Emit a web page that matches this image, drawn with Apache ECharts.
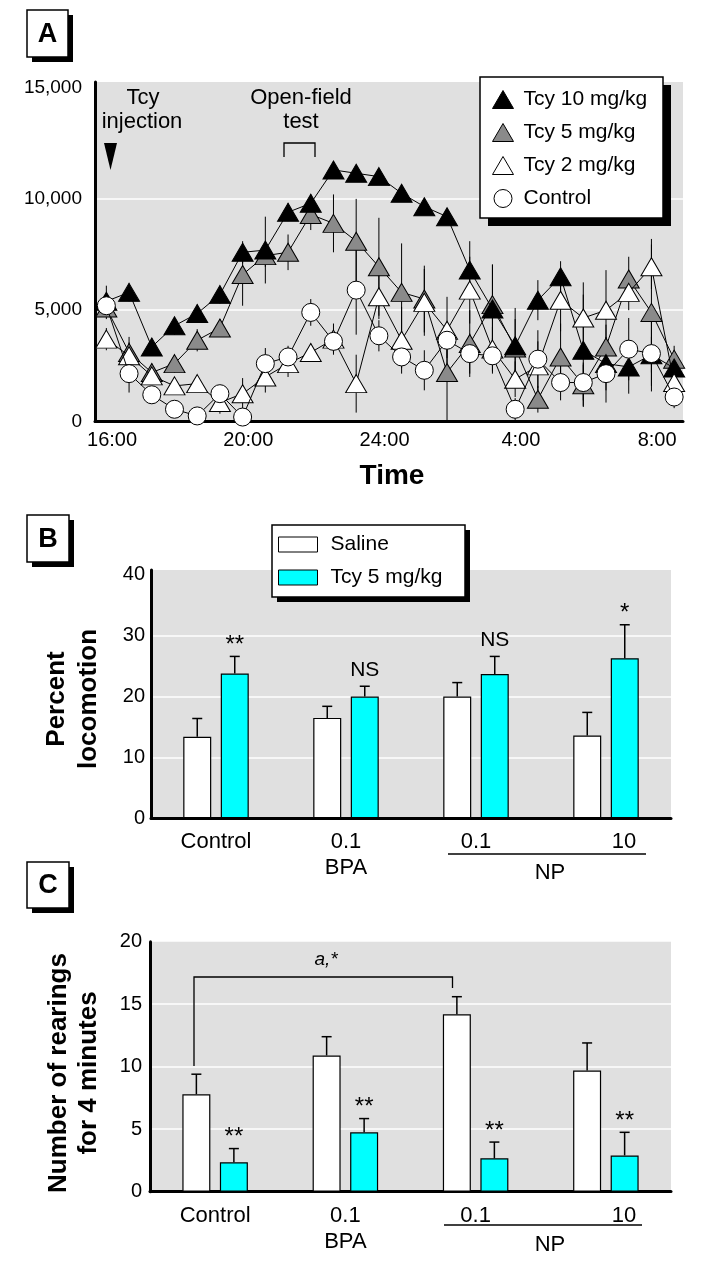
<!DOCTYPE html>
<html><head><meta charset="utf-8">
<script src="https://cdn.jsdelivr.net/npm/echarts@6/dist/echarts.min.js"></script>
<style>html,body{margin:0;padding:0;background:#fff}#c{width:715px;height:1266px}</style>
</head><body><div id="c"></div>
<script>
// ---------- Panel A data ----------
const timeLabels = ['15:50','16:30','17:10','17:50','18:30','19:10','19:50','20:30','21:10','21:50','22:30','23:10','23:50','0:30','1:10','1:50','2:30','3:10','3:50','4:30','5:10','5:50','6:30','7:10','7:50','8:30'];
const tcy10 = [5400,5800,3350,4300,4850,5700,7600,7700,9400,9800,11300,11150,11000,10250,9650,9200,6800,5050,3400,5450,6500,3200,2600,2450,3000,2400];
const tcy10Err = [700,400,400,400,400,400,500,1500,400,400,400,300,300,300,300,300,1300,2000,1700,900,700,2500,1200,1200,800,800];
const tcy5 = [5100,3100,2200,2600,3650,4200,6600,7450,7600,9300,8900,8100,6950,5800,5500,2200,3500,5250,3300,1000,2900,1650,3350,6400,4900,2800];
const tcy5Err = [500,700,400,400,500,400,1400,500,800,700,1300,1900,2200,2200,1500,2200,1500,1800,1300,600,1500,1000,1000,1000,3300,600];
const tcy2 = [3700,2950,2050,1600,1700,850,1250,2000,2600,3100,3700,1700,5600,3650,5350,4100,5900,3250,1900,2500,5450,4650,5000,5800,6950,1750];
const tcy2Err = [500,600,300,300,300,500,700,700,600,400,700,1300,1000,1500,1500,1500,1500,1000,800,1100,1400,1600,1800,800,1000,800];
const control = [5200,2150,1200,550,250,1250,200,2600,2900,4900,3600,5900,3850,2900,2300,3650,3050,2950,550,2800,1750,1750,2150,3250,3050,1100];
const controlErr = [500,850,300,200,200,300,200,700,500,600,500,2000,700,500,900,800,900,800,500,1300,800,800,1300,1400,1700,500];
const xTicksA = ['16:00','20:00','24:00','4:00','8:00'];
const yTicksA = [0,5000,10000,15000];

// ---------- Panel B / C data ----------
const barCats = ['Control','0.1\nBPA','0.1','10'];
const salineB = [13.4,16.5,20.0,13.6];
const salineBErr = [3.0,1.9,2.3,3.8];
const tcyB = [23.8,20.0,23.7,26.3];
const tcyBErr = [2.8,1.7,2.9,5.5];
const marksB = ['**','NS','NS','*'];
const yTicksB = [0,10,20,30,40];

const salineC = [7.8,10.9,14.2,9.7];
const salineCErr = [1.6,1.5,1.4,2.2];
const tcyC = [2.35,4.75,2.67,2.9];
const tcyCErr = [1.1,1.1,1.3,1.85];
const marksC = ['**','**','**','**'];
const yTicksC = [0,5,10,15,20];

// ---------- helpers ----------
const FN = "'Liberation Sans',Arial,sans-serif";
const FB = "'Liberation Sans',Arial,sans-serif";
const BG = '#e0e0e0';
function toHours(s){const p=s.split(':').map(Number);let v=p[0]+p[1]/60;if(v<12)v+=24;return v;}
const times = timeLabels.map(toHours);
const xTickHours = xTicksA.map(toHours);

function lineSeries(name, vals, sym, size, fill, z){
  return {type:'line', name, xAxisIndex:0, yAxisIndex:0, z,
    data: times.map((t,i)=>[t, vals[i]]),
    symbol: sym, symbolSize: size, showSymbol: true, symbolKeepAspect:false,
    lineStyle:{color:'#000', width:1},
    itemStyle:{color:fill, borderColor:'#000', borderWidth:1},
    emphasis:{disabled:true}, animation:false};
}
function errSeriesA(vals, errs){
  return {type:'custom', xAxisIndex:0, yAxisIndex:0, z:1, silent:true, animation:false,
    data: times.map((t,i)=>[t, vals[i], errs[i]]),
    renderItem:(p,api)=>{
      const x=api.value(0), v=api.value(1), e=api.value(2);
      const a=api.coord([x, Math.max(0, v-e)]), b=api.coord([x, v+e]);
      return {type:'line', shape:{x1:a[0],y1:a[1],x2:b[0],y2:b[1]}, style:{stroke:'#000', lineWidth:1}};
    }};
}
function gridLines(xi, yi, ticks){
  return {type:'line', xAxisIndex:xi, yAxisIndex:yi, data:[], z:0, silent:true,
    markLine:{silent:true, z:0, symbol:'none', label:{show:false}, animation:false,
      lineStyle:{color:'#fff', width:1.5, type:'solid'},
      data: ticks.slice(1,-1).map(v=>({yAxis:v}))}};
}
function barSeries(name, xi, yi, vals, color){
  return {type:'bar', name, xAxisIndex:xi, yAxisIndex:yi, data: vals, barWidth:28, barGap:'34%',
    itemStyle:{color, borderColor:'#000', borderWidth:1.2}, z:3, animation:false, emphasis:{disabled:true}};
}
function barErr(xi, yi, vals, errs, marks, offset){
  return {type:'custom', xAxisIndex:xi, yAxisIndex:yi, z:4, silent:true, animation:false,
    data: vals.map((v,i)=>[i, v, errs[i]]),
    renderItem:(p,api)=>{
      const i=api.value(0), v=api.value(1), e=api.value(2);
      const a=api.coord([i,v]), b=api.coord([i,v+e]); const x=a[0]+offset;
      const ch=[
        {type:'line', shape:{x1:x,y1:a[1],x2:x,y2:b[1]}, style:{stroke:'#000', lineWidth:1.5}},
        {type:'line', shape:{x1:x-5,y1:b[1],x2:x+5,y2:b[1]}, style:{stroke:'#000', lineWidth:1.5}}];
      const m = marks ? marks[p.dataIndex] : '';
      if (m) {
        const star = m.indexOf('*')>=0;
        ch.push({type:'text', x:x, y:b[1] + (star ? 1 : -6),
          style:{text:m, align:'center', verticalAlign:'bottom', fontFamily:FN, fontSize:star?24:21, fill:'#000'}});
      }
      return {type:'group', children:ch};
    }};
}
function valueY(gi, max, ticks, margin, size){
  return {type:'value', gridIndex:gi, min:0, max,
    axisLine:{show:true, lineStyle:{color:'#000', width:3}}, axisTick:{show:false}, splitLine:{show:false},
    axisLabel:{customValues:ticks, fontFamily:FN, fontSize:size, color:'#000', margin,
      formatter:v=>Number(v).toLocaleString('en-US')}};
}
function catX(gi){
  return {type:'category', gridIndex:gi, data:barCats, boundaryGap:true,
    axisLine:{lineStyle:{color:'#000', width:3}}, axisTick:{show:false},
    axisLabel:{fontFamily:FN, fontSize:22, color:'#000', margin:11, lineHeight:26, interval:0,
      formatter:(v,i)=> i===3 ? '{s|'+v+'}' : v,
      rich:{s:{fontFamily:FN, fontSize:22, color:'#000', padding:[0,0,0,36]}}}};
}
function labelBox(x, y, w, h, letter){
  return [
    {type:'rect', shape:{x:x+5, y:y+5, width:w, height:h}, style:{fill:'#000'}, z:50},
    {type:'rect', shape:{x, y, width:w, height:h}, style:{fill:'#fff', stroke:'#000', lineWidth:1.5}, z:51},
    {type:'text', x:x+w/2, y:y+h/2+1, style:{text:letter, align:'center', verticalAlign:'middle', fontFamily:FB, fontWeight:'bold', fontSize:27, fill:'#000'}, z:52}
  ];
}
function shadowBox(x, y, w, h, off){
  return [
    {type:'rect', shape:{x:x+off, y:y+off, width:w, height:h}, style:{fill:'#000'}, z:8},
    {type:'rect', shape:{x, y, width:w, height:h}, style:{fill:'#fff', stroke:'#000', lineWidth:1.5}, z:9}
  ];
}
function txt(x, y, s, size, opts){
  return {type:'text', x, y, z:60, style:Object.assign({text:s, align:'center', verticalAlign:'middle', fontFamily:FN, fontSize:size, fill:'#000'}, opts||{})};
}

const chart = echarts.init(document.getElementById('c'), null, {renderer:'canvas'});
const option = {
  animation:false,
  backgroundColor:'#fff',
  grid:[
    {left:95, top:82, width:588, height:339.5, show:true, backgroundColor:BG, borderWidth:0},
    {left:151, top:570, width:520, height:248.3, show:true, backgroundColor:BG, borderWidth:0},
    {left:150, top:941.7, width:521, height:250, show:true, backgroundColor:BG, borderWidth:0}
  ],
  xAxis:[
    {type:'value', gridIndex:0, min:15.5, max:32.76,
      axisLine:{lineStyle:{color:'#000', width:3}}, axisTick:{show:false}, splitLine:{show:false},
      axisLabel:{customValues:xTickHours, fontFamily:FN, fontSize:20, color:'#000', margin:9,
        formatter:v=>{const h=Math.round(v)%24; return (h===0?24:h)+':00';}}},
    catX(1), catX(2)
  ],
  yAxis:[
    valueY(0, 15250, yTicksA, 13, 19),
    valueY(1, 40.8, yTicksB, 6, 20),
    valueY(2, 20, yTicksC, 8, 20)
  ],
  legend:[
    {data:[
        {name:'Tcy 10 mg/kg', icon:'triangle', itemStyle:{color:'#000', borderColor:'#000', borderWidth:1}},
        {name:'Tcy 5 mg/kg', icon:'triangle', itemStyle:{color:'#8a8a8a', borderColor:'#000', borderWidth:1}},
        {name:'Tcy 2 mg/kg', icon:'triangle', itemStyle:{color:'#fff', borderColor:'#000', borderWidth:1}},
        {name:'Control', icon:'circle', itemStyle:{color:'#fff', borderColor:'#000', borderWidth:1}}],
      orient:'vertical', left:480, top:77, itemWidth:21, itemHeight:18, itemGap:12, symbolKeepAspect:false,
      padding:[12,10,10,12], backgroundColor:'transparent', borderWidth:0, z:10, selectedMode:false,
      textStyle:{fontFamily:FN, fontSize:21, color:'#000', padding:[0,0,0,5]}},
    {data:[
        {name:'Saline', icon:'rect', itemStyle:{color:'#fff', borderColor:'#000', borderWidth:1}},
        {name:'Tcy 5 mg/kg ', icon:'rect', itemStyle:{color:'#00ffff', borderColor:'#000', borderWidth:1}}],
      orient:'vertical', left:272, top:527, itemWidth:39, itemHeight:15, itemGap:12,
      padding:[7,10,8,6], backgroundColor:'transparent', borderWidth:0, z:10, selectedMode:false,
      textStyle:{fontFamily:FN, fontSize:21, color:'#000', padding:[0,0,0,8]}}
  ],
  series:[
    gridLines(0,0,yTicksA),
    errSeriesA(tcy5, tcy5Err), errSeriesA(tcy10, tcy10Err), errSeriesA(tcy2, tcy2Err), errSeriesA(control, controlErr),
    lineSeries('Tcy 5 mg/kg', tcy5, 'triangle', [21,18], '#8a8a8a', 2),
    lineSeries('Tcy 10 mg/kg', tcy10, 'triangle', [21,18], '#000', 3),
    lineSeries('Tcy 2 mg/kg', tcy2, 'triangle', [21,18], '#fff', 4),
    lineSeries('Control', control, 'circle', 18, '#fff', 5),
    gridLines(1,1,yTicksB),
    barSeries('Saline', 1, 1, salineB, '#fff'),
    barSeries('Tcy 5 mg/kg ', 1, 1, tcyB, '#00ffff'),
    barErr(1,1, salineB, salineBErr, null, -18.75),
    barErr(1,1, tcyB, tcyBErr, marksB, 18.75),
    gridLines(2,2,yTicksC),
    barSeries('Saline', 2, 2, salineC, '#fff'),
    barSeries('Tcy 5 mg/kg ', 2, 2, tcyC, '#00ffff'),
    barErr(2,2, salineC, salineCErr, null, -18.75),
    barErr(2,2, tcyC, tcyCErr, marksC, 18.75)
  ],
  graphic:[
    ...labelBox(27, 10, 41, 47, 'A'),
    ...labelBox(27, 515, 42, 47, 'B'),
    ...labelBox(27, 862, 42, 46, 'C'),
    ...shadowBox(480, 77, 183, 141, 8),
    ...shadowBox(272, 525, 193, 72, 5),
    // Panel A annotations
    txt(143, 98, 'Tcy', 22),
    txt(142, 122, 'injection', 22),
    {type:'polygon', z:60, shape:{points:[[104,143],[117,143],[110.5,170]]}, style:{fill:'#000'}},
    txt(301, 98, 'Open-field', 22),
    txt(301, 122, 'test', 22),
    {type:'polyline', z:60, shape:{points:[[284,157],[284,143],[315,143],[315,157]]}, style:{stroke:'#000', lineWidth:1.3, fill:null}},
    txt(392, 476, 'Time', 28, {fontWeight:'bold'}),
    // Panel C annotations
    {type:'polyline', z:60, shape:{points:[[194,1066],[194,977],[452.5,977],[452.5,988]]}, style:{stroke:'#000', lineWidth:1.3, fill:null}},
    txt(326, 960, 'a,*', 19, {fontStyle:'italic'}),
    {type:'line', z:60, shape:{x1:448,y1:854,x2:646,y2:854}, style:{stroke:'#000', lineWidth:1.5}},
    txt(550, 873, 'NP', 22),
    {type:'line', z:60, shape:{x1:444,y1:1225,x2:642,y2:1225}, style:{stroke:'#000', lineWidth:1.5}},
    txt(550, 1245, 'NP', 22)
  ]
};
// rotated axis titles
[['Percent',57,699],['locomotion',89,699],['Number of rearings',59,1073],['for 4 minutes',89,1073]].forEach(([s,x,y])=>{
  option.graphic.push({type:'text', x, y, rotation:Math.PI/2, z:60,
    style:{text:s, align:'center', verticalAlign:'middle', fontFamily:FB, fontWeight:'bold', fontSize:26, fill:'#000'}});
});
chart.setOption(option);
</script>
</body></html>
